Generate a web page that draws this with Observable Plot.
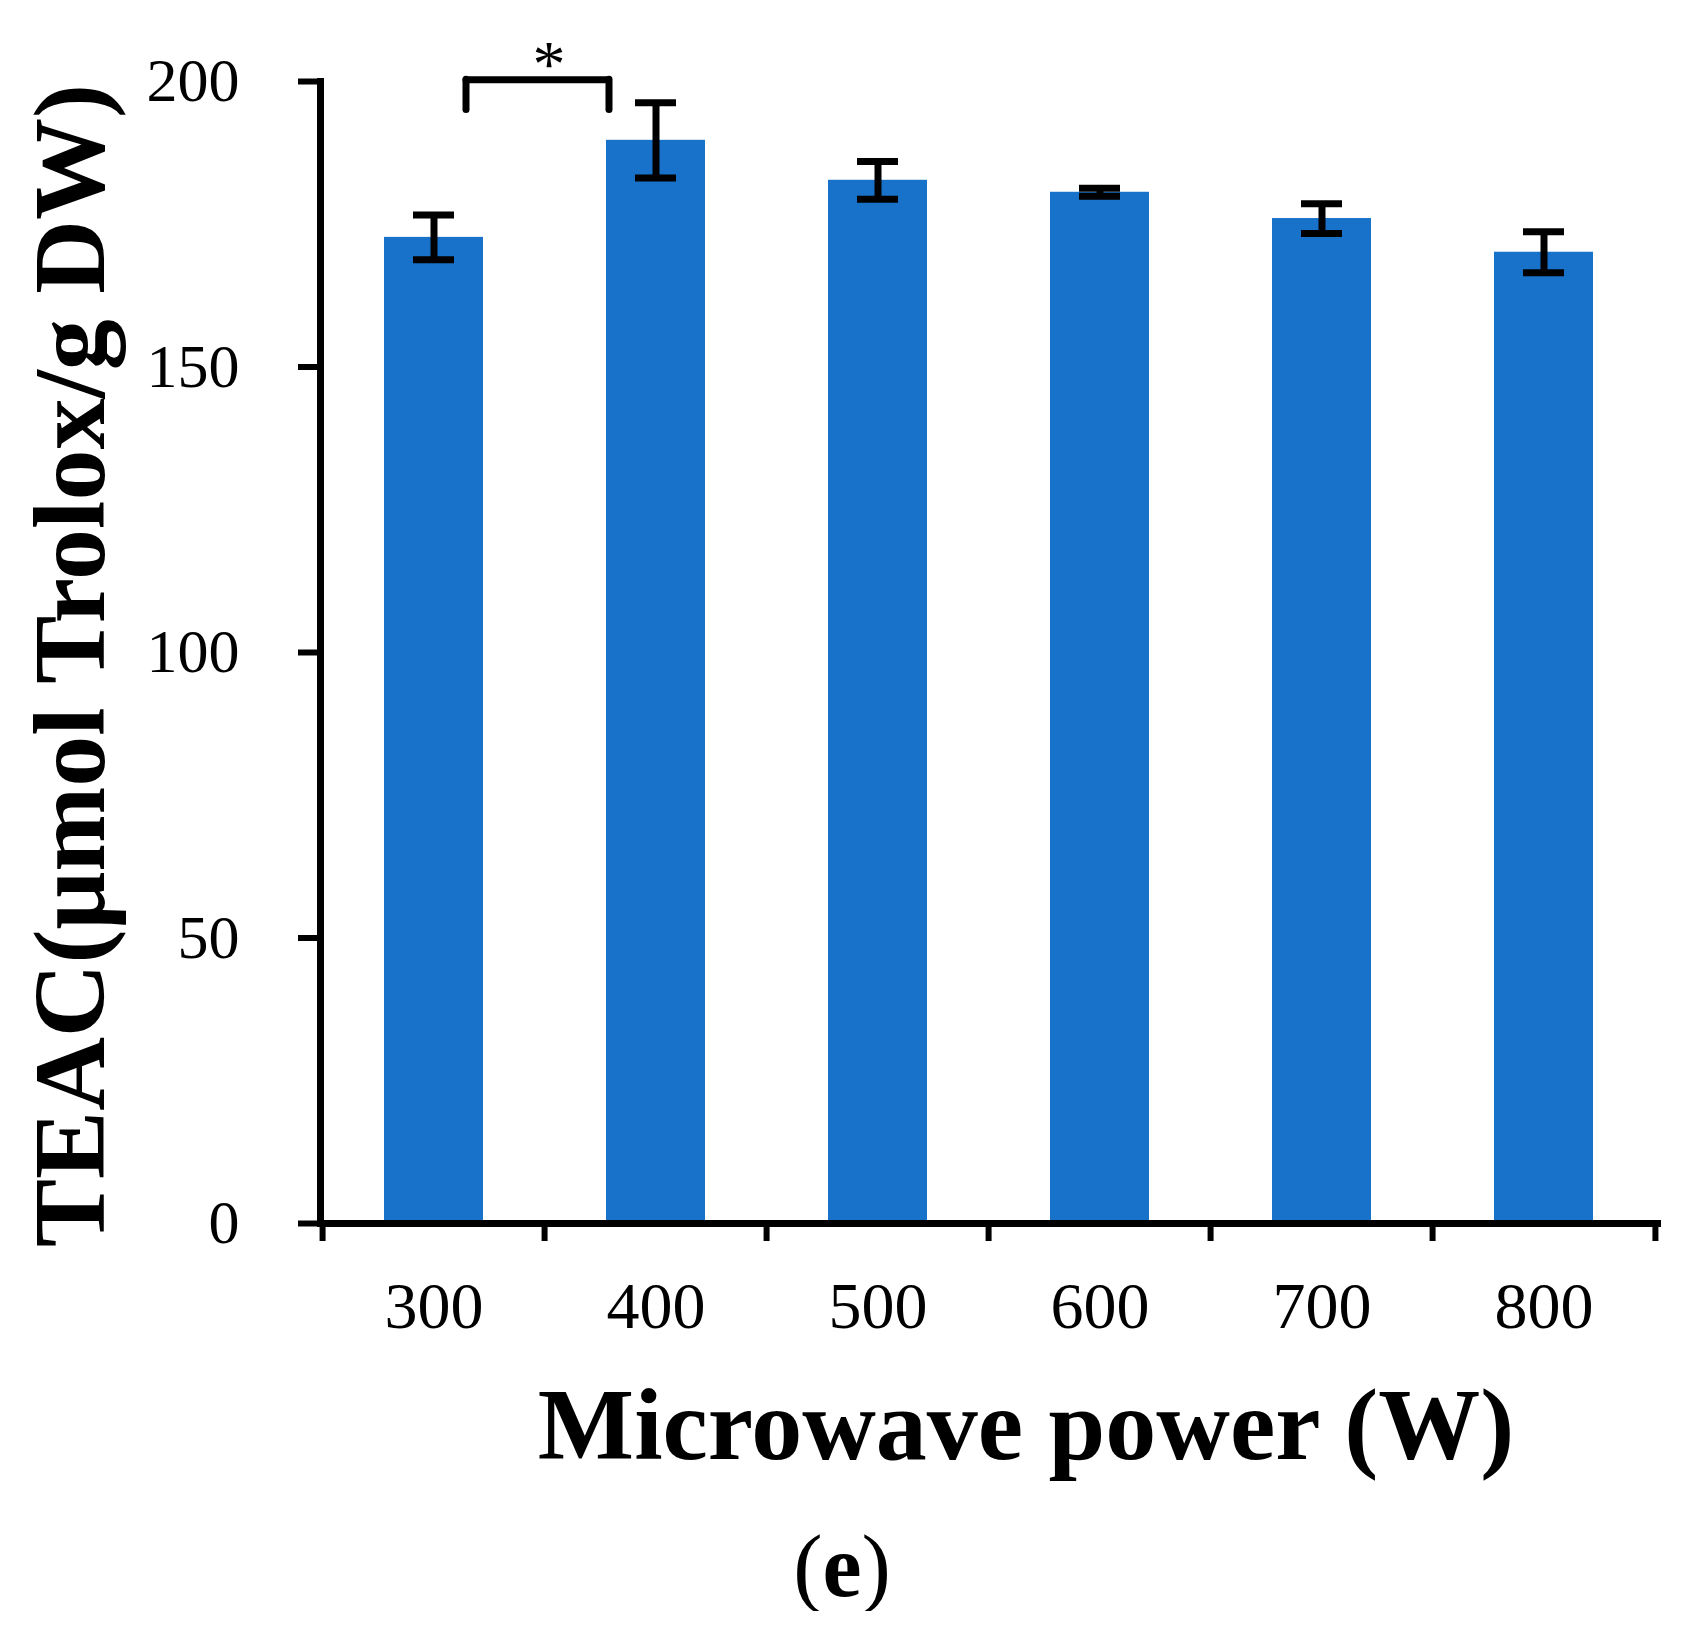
<!DOCTYPE html>
<html>
<head>
<meta charset="utf-8">
<script src="https://cdn.jsdelivr.net/npm/d3@7"></script>
<script src="https://cdn.jsdelivr.net/npm/@observablehq/plot@0.6"></script>
<style>
  html, body { margin: 0; padding: 0; background: #fff; }
  #caption { width: 1684px; text-align: center; font-family: "Liberation Serif", serif; font-size: 88px; line-height: 88px; margin-top: 23px; color: #000; }
  #caption b { font-weight: bold; }
</style>
</head>
<body>
<div id="chart"></div>
<div id="caption">(<b>e</b>)</div>
<script>
// ---- data ----
const powers = [300, 400, 500, 600, 700, 800];          // Microwave power (W)
const teac   = [172.7, 189.7, 182.7, 180.6, 176.0, 170.1]; // TEAC (µmol Trolox/g DW)
const sd     = [3.9, 6.6, 3.3, 0.7, 2.6, 3.6];            // error bars
const yTicks = [0, 50, 100, 150, 200];
const xTitle = "Microwave power (W)";
const yTitle = "TEAC(μmol Trolox/g DW)";
const sigFrom = [300];
const sigTo   = [400];
const sigText = ["*"];

// ---- layout / annotation levels (in data units of y) ----
const W = 1684, H = 1500, ML = 320, MR = 27, MT = 81, MB = 277;
const step = (W - ML - MR) / powers.length;
const bracketTop = 200.3, bracketLeg = 195, starLevel = 202.9;

const rows = powers.map((p, i) => ({power: p, teac: teac[i], sd: sd[i]}));
const sig = sigFrom.map((f, i) => ({from: f, to: sigTo[i], text: sigText[i]}));

const blue = "#1872c9";

const chart = Plot.plot({
  width: W,
  height: H,
  marginLeft: ML,
  marginRight: MR,
  marginTop: MT,
  marginBottom: MB,
  style: {fontFamily: "Liberation Serif, serif", fontSize: "62px", color: "#000", background: "#fff", overflow: "visible"},
  x: {type: "band", domain: powers, paddingInner: 0.556, paddingOuter: 0.278, label: null},
  y: {domain: [0, 200], label: null},
  marks: [
    Plot.barY(rows, {x: "power", y: "teac", fill: blue}),
    // error bars
    Plot.ruleX(rows, {x: "power", y1: d => d.teac - d.sd, y2: d => d.teac + d.sd, stroke: "#000", strokeWidth: 7}),
    Plot.tickY(rows, {x: "power", y: d => d.teac - d.sd, stroke: "#000", strokeWidth: 7, insetLeft: 29, insetRight: 29}),
    Plot.tickY(rows, {x: "power", y: d => d.teac + d.sd, stroke: "#000", strokeWidth: 7, insetLeft: 29, insetRight: 29}),
    // axes lines
    Plot.frame({anchor: "left", stroke: "#000", strokeWidth: 7}),
    Plot.frame({anchor: "bottom", stroke: "#000", strokeWidth: 7}),
    // y axis
    Plot.axisY({ticks: yTicks, tickSize: 22, tickPadding: 59, strokeWidth: 6, fontSize: 62, label: null}),
    // x axis boundary ticks
    Plot.axisX({tickSize: 18, tickFormat: () => "", dx: -step / 2, strokeWidth: 6, label: null}),
    Plot.axisX({ticks: [powers[powers.length - 1]], tickSize: 18, tickFormat: () => "", dx: step / 2, strokeWidth: 6, label: null}),
    // x axis labels
    Plot.axisX({tickSize: 0, tickPadding: 58, fontSize: 66, label: null}),
    // significance bracket
    Plot.ruleY(sig, {x1: "from", x2: "to", y: () => bracketTop, stroke: "#000", strokeWidth: 7, insetLeft: 82, insetRight: 97, strokeLinecap: "round"}),
    Plot.ruleX(sig, {x: "from", y1: () => bracketLeg, y2: () => bracketTop, dx: 32, stroke: "#000", strokeWidth: 7, strokeLinecap: "round"}),
    Plot.ruleX(sig, {x: "to", y1: () => bracketLeg, y2: () => bracketTop, dx: -47, stroke: "#000", strokeWidth: 7, strokeLinecap: "round"}),
    Plot.text(sig, {x: "from", y: () => starLevel, text: "text", dx: 115, fontSize: 66, lineAnchor: "middle"}),
    // axis titles
    Plot.text([yTitle], {text: d => d, frameAnchor: "left", rotate: -90, dx: -217, dy: 13, lineAnchor: "bottom", textAnchor: "middle", fontSize: 102, fontWeight: "bold"}),
    Plot.text([xTitle], {text: d => d, frameAnchor: "bottom", dx: 37, dy: 235, lineAnchor: "bottom", textAnchor: "middle", fontSize: 102, fontWeight: "bold"})
  ]
});
document.getElementById("chart").append(chart);
</script>
</body>
</html>
